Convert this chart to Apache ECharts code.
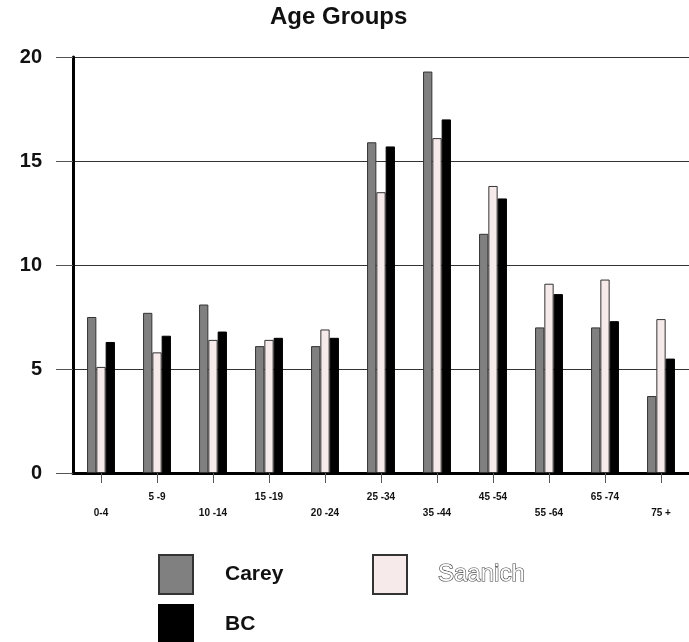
<!DOCTYPE html>
<html>
<head>
<meta charset="utf-8">
<script src="https://cdn.jsdelivr.net/npm/echarts@6/dist/echarts.min.js"></script>
<style>html,body{margin:0;padding:0;background:#fff}#c{width:689px;height:642px}</style>
</head>
<body>
<div id="c"></div>
<script>
const categories = ['0-4','5 -9','10 -14','15 -19','20 -24','25 -34','35 -44','45 -54','55 -64','65 -74','75 +'];
const carey   = [7.5, 7.7, 8.1, 6.1, 6.1, 15.9, 19.3, 11.5, 7.0, 7.0, 3.7];
const saanich = [5.1, 5.8, 6.4, 6.4, 6.9, 13.5, 16.1, 13.8, 9.1, 9.3, 7.4];
const bc      = [6.3, 6.6, 6.8, 6.5, 6.5, 15.7, 17.0, 13.2, 8.6, 7.3, 5.5];
const yMin = 0, yMax = 20, yStep = 5;

const FONT = '"Liberation Sans", Arial, sans-serif';
const chart = echarts.init(document.getElementById('c'));
chart.setOption({
  animation: false,
  backgroundColor: '#fff',
  title: {
    text: 'Age Groups', left: 270, top: 5, padding: 0,
    textStyle: { fontFamily: FONT, fontSize: 24, fontWeight: 'bold', color: '#111' }
  },
  legend: [
    {
      data: [
        { name: 'Carey' },
        { name: 'BC' }
      ],
      orient: 'vertical', left: 158, top: 554, height: 200, padding: 0,
      itemWidth: 34, itemHeight: 39, itemGap: 9, icon: 'rect', selectedMode: false,
      textStyle: { fontFamily: FONT, fontSize: 21, fontWeight: 'bold', color: '#111', padding: [0, 0, 0, 27] }
    },
    {
      data: [{ name: 'Saanich' }],
      orient: 'vertical', left: 372, top: 554, height: 200, padding: 0,
      itemWidth: 34, itemHeight: 39, icon: 'rect', selectedMode: false,
      textStyle: { fontFamily: FONT, fontSize: 24, fontWeight: 'normal', color: '#ffffff',
        textBorderColor: '#444', textBorderWidth: 1.2, padding: [0, 0, 0, 26] }
    }
  ],
  grid: { left: 73, right: 0, top: 57, bottom: 169, containLabel: false },
  xAxis: {
    type: 'category', data: categories,
    axisLine: { lineStyle: { color: '#000', width: 3 } },
    axisTick: { show: true, alignWithLabel: true, length: 10, lineStyle: { color: '#555', width: 1 } },
    axisLabel: {
      interval: 0, margin: 16, lineHeight: 16,
      fontFamily: FONT, fontSize: 10, fontWeight: 'bold', color: '#111',
      formatter: (v, i) => (i % 2 === 0 ? '\n' + v : v)
    }
  },
  yAxis: {
    type: 'value', min: yMin, max: yMax, interval: yStep,
    axisLine: { show: true, lineStyle: { color: '#000', width: 3 } },
    axisTick: { show: true, length: 17, lineStyle: { color: '#555', width: 1 } },
    axisLabel: { margin: 31, fontFamily: FONT, fontSize: 20, fontWeight: 'bold', color: '#111' },
    splitLine: { lineStyle: { color: '#333', width: 1 } }
  },
  series: [
    { name: 'Carey', type: 'bar', data: carey, barWidth: 9.3, barGap: '0%',
      itemStyle: { color: '#808080', borderColor: '#333', borderWidth: 1 } },
    { name: 'Saanich', type: 'bar', data: saanich, barWidth: 9.3, barGap: '0%',
      itemStyle: { color: '#f7eaea', borderColor: '#333', borderWidth: 1 } },
    { name: 'BC', type: 'bar', data: bc, barWidth: 9.3, barGap: '0%',
      itemStyle: { color: '#000', borderColor: '#000', borderWidth: 1 } }
  ]
});
</script>
</body>
</html>
